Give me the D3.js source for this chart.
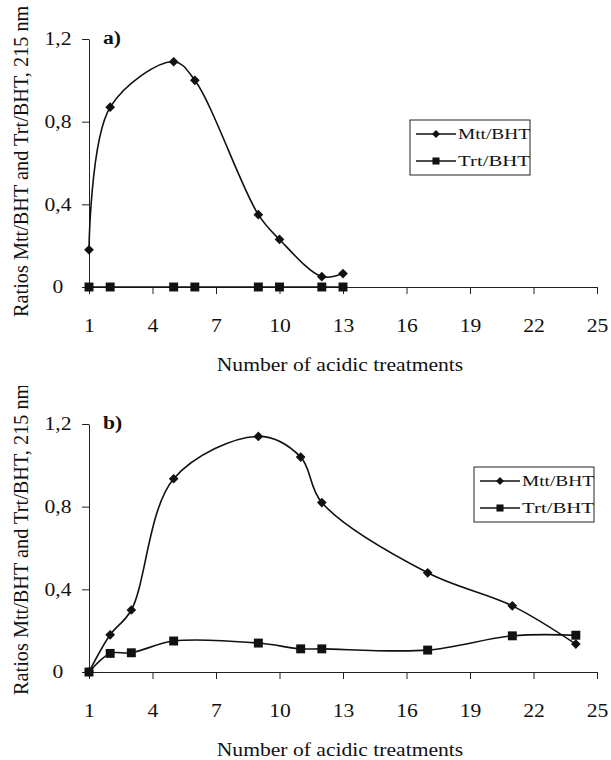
<!DOCTYPE html>
<html>
<head>
<meta charset="utf-8">
<script src="https://cdn.jsdelivr.net/npm/d3@7"></script>
<style>
  body { margin: 0; background: #fff; }
  svg { display: block; font-family: "Liberation Serif", "Times New Roman", serif; }
</style>
</head>
<body>
<svg class="chart" width="611" height="760"></svg>
<script>
// data
const xTicks = [1, 4, 7, 10, 13, 16, 19, 22, 25]
const yTicks = [0, 0.4, 0.8, 1.2]

const aX = [1, 2, 5, 6, 9, 10, 12, 13]
const aMtt = [0.18, 0.87, 1.09, 1.00, 0.35, 0.23, 0.05, 0.065]
const aTrt = [0, 0, 0, 0, 0, 0, 0, 0]

const bX = [1, 2, 3, 5, 9, 11, 12, 17, 21, 24]
const bMtt = [0, 0.18, 0.30, 0.935, 1.14, 1.04, 0.82, 0.48, 0.32, 0.135]
const bTrt = [0, 0.09, 0.093, 0.15, 0.14, 0.112, 0.112, 0.106, 0.175, 0.178]

const seriesNames = ['Mtt/BHT', 'Trt/BHT']
const xTitle = 'Number of acidic treatments'
const yTitle = 'Ratios Mtt/BHT and Trt/BHT, 215 nm'

const svg = d3.select('.chart')
const fmt = d => d === 0 ? '0' : String(d).replace('.', ',')

const diamond = d3.symbol().type(d3.symbolDiamond2)
const square = d3.symbol().type(d3.symbolSquare)

// the scanned figure is a bit wider than tall, so widen the glyphs
function widen(sel, k) {
  sel.each(function () {
    const w = this.getComputedTextLength()
    d3.select(this).attr('textLength', w * k).attr('lengthAdjust', 'spacingAndGlyphs')
  })
}

function drawPanel(p) {
  const x = d3.scaleLinear().domain([1, 25]).range([89, 597])
  const y = d3.scaleLinear().domain([0, 1.2]).range([p.bottom, p.bottom - 248])

  const g = svg.append('g')

  // y title (the top panel of the scan cuts it a little)
  const clipId = 'clip-' + p.label[0]
  svg.append('clipPath').attr('id', clipId)
    .append('rect').attr('x', 0).attr('y', p.clipTop).attr('width', 60).attr('height', 400)
  g.append('g').attr('clip-path', `url(#${clipId})`)
    .append('text')
    .attr('transform', `translate(28,${p.titleStart}) rotate(-90)`)
    .attr('font-size', 20.3)
    .attr('fill', '#111')
    .text(yTitle)

  const xAxis = g.append('g')
    .attr('transform', `translate(0,${y(0)})`)
    .call(d3.axisBottom(x).tickValues(xTicks).tickSize(7).tickSizeOuter(0).tickPadding(25))
  const yAxis = g.append('g')
    .attr('transform', `translate(${x(1)},0)`)
    .call(d3.axisLeft(y).tickValues(yTicks).tickFormat(fmt).tickSize(7).tickSizeOuter(0))

  for (const ax of [xAxis, yAxis]) {
    ax.selectAll('path, line').attr('stroke', '#222').attr('stroke-width', 1)
    ax.selectAll('text').attr('font-size', 18).attr('fill', '#111')
      .attr('font-family', '"Liberation Serif", serif')
  }
  yAxis.selectAll('text').attr('text-anchor', 'middle').attr('x', -31)
  widen(xAxis.selectAll('text'), 1.2)
  widen(yAxis.selectAll('text'), 1.2)

  g.append('text')
    .attr('x', 340).attr('y', y(0) + 84)
    .attr('text-anchor', 'middle')
    .attr('font-size', 18)
    .attr('fill', '#111')
    .text(xTitle)
    .call(widen, 1.2)

  g.append('text')
    .attr('x', 103).attr('y', y(1.2) + 5)
    .attr('font-size', 18).attr('font-weight', 'bold')
    .attr('fill', '#111')
    .text(p.label)
    .call(widen, 1.2)

  const line = d3.line()
    .x(d => x(d[0]))
    .y(d => y(d[1]))
    .curve(d3.curveCatmullRom)

  const series = [
    { vals: p.mtt, sym: diamond.size(60) },
    { vals: p.trt, sym: square.size(80) }
  ]
  series.forEach(s => {
    const pts = p.xs.map((v, i) => [v, s.vals[i]])
    g.append('path')
      .attr('d', line(pts))
      .attr('fill', 'none')
      .attr('stroke', '#111')
      .attr('stroke-width', 1.6)
    g.selectAll(null).data(pts).enter()
      .append('path')
      .attr('d', s.sym())
      .attr('transform', d => `translate(${x(d[0])},${y(d[1])})`)
      .attr('fill', '#111')
  })

  // legend
  const lg = g.append('g').attr('transform', `translate(${p.legend[0]},${p.legend[1]})`)
  lg.append('rect')
    .attr('width', 120).attr('height', 55)
    .attr('fill', '#fff').attr('stroke', '#222').attr('stroke-width', 1)
  seriesNames.forEach((name, i) => {
    const yy = 14 + i * 27
    lg.append('line')
      .attr('x1', 6).attr('x2', 46).attr('y1', yy).attr('y2', yy)
      .attr('stroke', '#111').attr('stroke-width', 1.6)
    lg.append('path')
      .attr('d', (i === 0 ? diamond.size(40) : square.size(50))())
      .attr('transform', `translate(26,${yy})`)
      .attr('fill', '#111')
    lg.append('text')
      .attr('x', 48).attr('y', yy + 5)
      .attr('font-size', 15)
      .attr('textLength', 72).attr('lengthAdjust', 'spacingAndGlyphs')
      .attr('fill', '#111')
      .text(name)
  })
}

drawPanel({ label: 'a)', bottom: 287, clipTop: 0, titleStart: 317, xs: aX, mtt: aMtt, trt: aTrt, legend: [410, 120] })
drawPanel({ label: 'b)', bottom: 672, clipTop: 386, titleStart: 695, xs: bX, mtt: bMtt, trt: bTrt, legend: [474, 467] })
</script>
</body>
</html>
